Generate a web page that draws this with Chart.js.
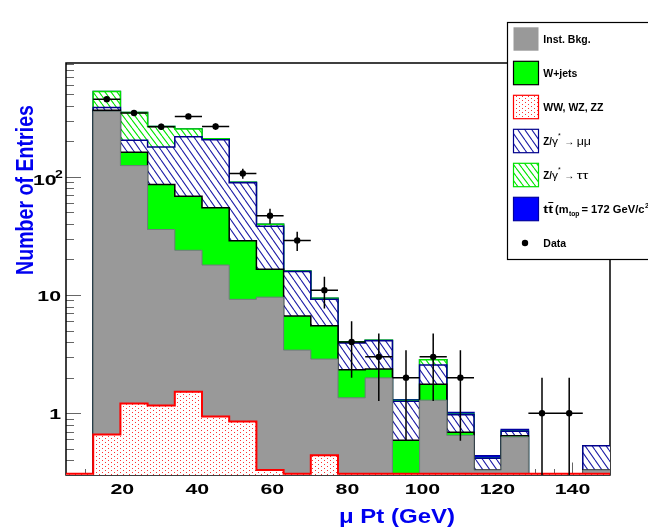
<!DOCTYPE html>
<html>
<head>
<meta charset="utf-8">
<script src="https://cdn.jsdelivr.net/npm/chart.js@4.4.1/dist/chart.umd.min.js"></script>
<style>
  html, body { margin: 0; padding: 0; background: #fff; }
</style>
</head>
<body>
<canvas id="chart" width="648" height="531"></canvas>
<script>
// Bin edges of the muon Pt histogram (GeV)
const binEdges = [5, 12.25, 19.5, 26.75, 34, 41.25, 48.5, 55.75, 63, 70.25, 77.5,
                  84.75, 92, 99.25, 106.5, 113.75, 121, 128.25, 135.5, 142.75, 150];

// Expected entries per bin, stacked bottom to top
const dibosonWW = [0, 0.66, 1.21, 1.16, 1.52, 0.94, 0.85, 0.33, 0, 0.44, 0, 0, 0, 0, 0, 0, 0, 0, 0, 0];
const instBkg   = [0, 357, 123.4, 34.7, 22.4, 17.0, 8.35, 9.27, 3.42, 2.43, 1.35, 1.99, 0, 1.29, 0.65, 0.33, 0.63, 0, 0, 0.33];
const wJets     = [0, 8.4, 36.7, 50.2, 44.7, 36.9, 19.6, 6.9, 3.24, 2.62, 0.98, 0.38, 0.59, 0.47, 0.04, 0, 0.015, 0, 0, 0];
const zMuMu     = [0, 20.5, 42.4, 93.0, 150.3, 151.6, 60.2, 21.8, 9.14, 3.73, 1.59, 1.73, 0.67, 0.80, 0.28, 0.085, 0.06, 0, 0, 0.2];
const zTauTau   = [0, 141, 147.2, 88.2, 35.3, 4.1, 1.0, 1.5, 0.2, 0.18, 0.1, 0.05, 0.02, 0.27, 0.01, 0, 0, 0, 0, 0];
const ttbar     = [0, 0, 0, 0, 0, 0, 0, 0, 0, 0, 0, 0, 0.02, 0, 0.035, 0.022, 0.024, 0, 0, 0];

// Observed entries per bin
const dataCounts = [0, 455, 347, 266, 325, 267, 107, 47, 29, 11, 4, 3, 2, 3, 2, 0, 0, 1, 1, 0];

// Axis labels
const xTickLabels = [20, 40, 60, 80, 100, 120, 140];
const yTickLabels = [1, 10, 100];

const Y_MIN = 0.3075, Y_MAX = 920;
const FONT = '"Liberation Sans", Arial, Helvetica, sans-serif';

// fill patterns
function makePattern(w, h, draw) {
    const c = document.createElement('canvas');
    c.width = w; c.height = h;
    const g = c.getContext('2d');
    g.fillStyle = '#fff';
    g.fillRect(0, 0, w, h);
    draw(g, w, h);
    return g.createPattern(c, 'repeat');
}
function hatch(color, w, h, lw) {
    return makePattern(w, h, (g) => {
        g.strokeStyle = color;
        g.lineWidth = lw;
        g.beginPath();
        for (const dx of [-w, 0, w]) { g.moveTo(dx, 0); g.lineTo(dx + w, h); }
        g.stroke();
    });
}
const blueHatch = hatch('#1e1ea8', 7, 10, 1.1);
const greenHatch = hatch('#00e800', 6, 8, 1.1);
const redDots = makePattern(6, 4, (g) => {
    g.fillStyle = '#ff3030';
    g.fillRect(0, 0, 1, 1);
    g.fillRect(3, 2, 1, 1);
});

const styles = [
    { fill: redDots,    line: '#ff0000', width: 2 },
    { fill: '#999999',  line: '#6f7b7b', width: 1 },
    { fill: '#00ff00',  line: '#000000', width: 1.5 },
    { fill: blueHatch,  line: '#00008c', width: 1.5 },
    { fill: greenHatch, line: '#00e000', width: 1.5 },
    { fill: '#0000ff',  line: '#0000a0', width: 1.5 },
];

// cumulative sums for the stack
const components = [dibosonWW, instBkg, wJets, zMuMu, zTauTau, ttbar];
const cumulative = [];
let running = components[0].map(() => 0);
components.forEach(comp => {
    running = running.map((v, i) => v + comp[i]);
    cumulative.push(running);
});

function stepPoints(values) {
    const pts = values.map((v, i) => ({ x: binEdges[i], y: Math.max(v, Y_MIN) }));
    pts.push({ x: binEdges[binEdges.length - 1], y: pts[pts.length - 1].y });
    return pts;
}

const dataPoints = [];
dataCounts.forEach((n, i) => {
    if (n > 0) dataPoints.push({ x: (binEdges[i] + binEdges[i + 1]) / 2, y: n });
});

const datasets = [{
    type: 'line',
    label: 'Data',
    data: dataPoints,
    showLine: false,
    pointRadius: 3.2,
    pointBackgroundColor: '#000',
    pointBorderColor: '#000',
    pointBorderWidth: 0,
    order: 0,
}];
styles.forEach((s, k) => {
    datasets.push({
        type: 'line',
        data: stepPoints(cumulative[k]),
        stepped: true,
        fill: 'start',
        backgroundColor: s.fill,
        borderColor: s.line,
        borderWidth: s.width,
        pointRadius: 0,
        order: k + 1,
    });
});

function drawText(ctx, str, x, y, o) {
    ctx.save();
    ctx.font = o.font;
    ctx.fillStyle = o.color || '#000';
    ctx.textBaseline = 'alphabetic';
    ctx.textAlign = o.align || 'left';
    let sx = o.sx || 1;
    if (o.width) sx = o.width / ctx.measureText(str).width;
    ctx.translate(x, y);
    if (o.rotate) ctx.rotate(o.rotate);
    ctx.scale(sx, o.sy || 1);
    ctx.fillText(str, 0, 0);
    ctx.restore();
}

// frame and inward ticks, under the histograms
const frame = {
    id: 'frame',
    beforeDatasetsDraw(chart) {
        const { ctx, chartArea: a, scales: { x, y } } = chart;
        ctx.save();
        ctx.strokeStyle = '#666';
        ctx.lineWidth = 1;
        ctx.beginPath();
        for (let d = 0.1; d <= 100; d *= 10) {
            for (let m = 1; m <= 9; m++) {
                const v = d * m;
                if (v < Y_MIN || v > Y_MAX) continue;
                const py = Math.round(y.getPixelForValue(v)) + 0.5;
                ctx.moveTo(a.left, py);
                ctx.lineTo(a.left + (m === 1 ? 15 : 8), py);
            }
        }
        for (let v = 10; v < 150; v += 5) {
            const px = Math.round(x.getPixelForValue(v)) + 0.5;
            ctx.moveTo(px, a.bottom);
            ctx.lineTo(px, a.bottom - (v % 20 === 0 ? 12.5 : 6));
        }
        ctx.stroke();
        ctx.strokeStyle = '#000';
        ctx.lineWidth = 1.5;
        ctx.strokeRect(a.left, a.top, a.right - a.left, a.bottom - a.top);
        ctx.restore();
    },
    beforeDatasetDraw(chart, args) {
        if (args.index !== 0) return;
        const { ctx, chartArea: a, scales: { x, y } } = chart;
        ctx.save();
        ctx.beginPath();
        ctx.rect(a.left, a.top, a.right - a.left, a.bottom - a.top);
        ctx.clip();
        ctx.strokeStyle = '#000';
        ctx.lineWidth = 1.5;
        ctx.beginPath();
        dataCounts.forEach((n, i) => {
            if (n <= 0) return;
            const py = y.getPixelForValue(n);
            const err = Math.sqrt(n);
            const lo = n - err > 0 ? y.getPixelForValue(n - err) : a.bottom;
            const px = x.getPixelForValue((binEdges[i] + binEdges[i + 1]) / 2);
            ctx.moveTo(x.getPixelForValue(binEdges[i]), py);
            ctx.lineTo(x.getPixelForValue(binEdges[i + 1]), py);
            ctx.moveTo(px, y.getPixelForValue(n + err));
            ctx.lineTo(px, lo);
        });
        ctx.stroke();
        ctx.restore();
    },
    afterDraw(chart) {
        const { ctx, scales: { x, y } } = chart;
        const tickFont = 'bold 15px ' + FONT;

        xTickLabels.forEach(v => {
            drawText(ctx, String(v), x.getPixelForValue(v), 494, { font: tickFont, align: 'center', sx: 1.42 });
        });
        yTickLabels.forEach(v => {
            const py = y.getPixelForValue(v);
            if (v === 100) {
                drawText(ctx, '10', 56.7, py + 8.5, { font: tickFont, align: 'right', sx: 1.42 });
                drawText(ctx, '2', 55, py + 1.2, { font: 'bold 10px ' + FONT, sx: 1.4 });
            } else {
                drawText(ctx, String(v), 61, py + 6, { font: tickFont, align: 'right', sx: 1.42 });
            }
        });

        // axis titles
        drawText(ctx, 'Number of Entries', 32.7, 190, {
            font: 'bold 19px ' + FONT, color: '#0000f0', align: 'center',
            rotate: -Math.PI / 2, width: 170, sy: 1.3 });
        drawText(ctx, 'μ Pt (GeV)', 339, 523, { font: 'bold 20px ' + FONT, color: '#0000f0', width: 116 });

        // legend
        ctx.save();
        ctx.fillStyle = '#fff';
        ctx.fillRect(507.5, 22.5, 160, 237);
        ctx.strokeStyle = '#000';
        ctx.lineWidth = 1.2;
        ctx.strokeRect(507.5, 22.5, 160, 237);
        ctx.restore();

        const legendOrder = [1, 2, 0, 3, 4, 5];
        const lf = 'bold 10px ' + FONT;
        const sym = '10px ' + FONT;
        const tx = 543.3;
        const lsx = 1.05;
        legendOrder.forEach((k, row) => {
            const c = 39 + 34 * row;
            const s = styles[k];
            ctx.save();
            ctx.fillStyle = s.fill;
            ctx.fillRect(513.5, c - 11.7, 25, 23.4);
            if (k !== 1) {
                ctx.strokeStyle = s.line;
                ctx.lineWidth = 1.2;
                ctx.strokeRect(513.5, c - 11.7, 25, 23.4);
            }
            ctx.restore();
            const b = c + 3.6;
            if (k === 1) drawText(ctx, 'Inst. Bkg.', tx, b, { font: lf, sx: lsx });
            if (k === 2) drawText(ctx, 'W+jets', tx, b, { font: lf, sx: lsx });
            if (k === 0) drawText(ctx, 'WW, WZ, ZZ', tx, b, { font: lf, sx: lsx });
            if (k === 3 || k === 4) {
                drawText(ctx, 'Z/', tx, b, { font: lf, width: 8.6 });
                drawText(ctx, 'γ', 551.9, b, { font: sym, width: 6 });
                drawText(ctx, '*', 558, c - 3, { font: '7px ' + FONT });
                drawText(ctx, '→', 564.3, b, { font: sym, width: 10 });
                drawText(ctx, k === 3 ? 'μμ' : 'ττ', 576.7, b, { font: sym, width: k === 3 ? 14.3 : 11.6 });
            }
            if (k === 5) {
                drawText(ctx, 'tt', tx, b, { font: lf, width: 9.7 });
                ctx.save();
                ctx.strokeStyle = '#000';
                ctx.lineWidth = 1;
                ctx.beginPath();
                ctx.moveTo(548.3, c - 6.5);
                ctx.lineTo(553.3, c - 6.5);
                ctx.stroke();
                ctx.restore();
                drawText(ctx, '(m', 555, b, { font: lf, width: 13.5 });
                drawText(ctx, 'top', 569, c + 7, { font: 'bold 6.5px ' + FONT, width: 10.5 });
                drawText(ctx, '= 172 GeV/c', 581.5, b, { font: lf, width: 63 });
                drawText(ctx, '2', 645, c - 1.5, { font: 'bold 7px ' + FONT });
            }
        });
        const dc = 39 + 34 * 6;
        ctx.save();
        ctx.fillStyle = '#000';
        ctx.beginPath();
        ctx.arc(525, dc, 3.2, 0, Math.PI * 2);
        ctx.fill();
        ctx.restore();
        drawText(ctx, 'Data', tx, dc + 3.6, { font: lf, sx: lsx });
    }
};

new Chart(document.getElementById('chart'), {
    type: 'line',
    data: { datasets: datasets },
    options: {
        responsive: false,
        animation: false,
        devicePixelRatio: 1,
        events: [],
        layout: { padding: { left: 66, right: 38, top: 63, bottom: 56 } },
        scales: {
            x: { type: 'linear', min: 5, max: 150, display: false },
            y: { type: 'logarithmic', min: Y_MIN, max: Y_MAX, display: false },
        },
        plugins: {
            legend: { display: false },
            tooltip: { enabled: false },
            filler: { drawTime: 'beforeDatasetDraw' },
        },
    },
    plugins: [frame],
});
</script>
</body>
</html>
